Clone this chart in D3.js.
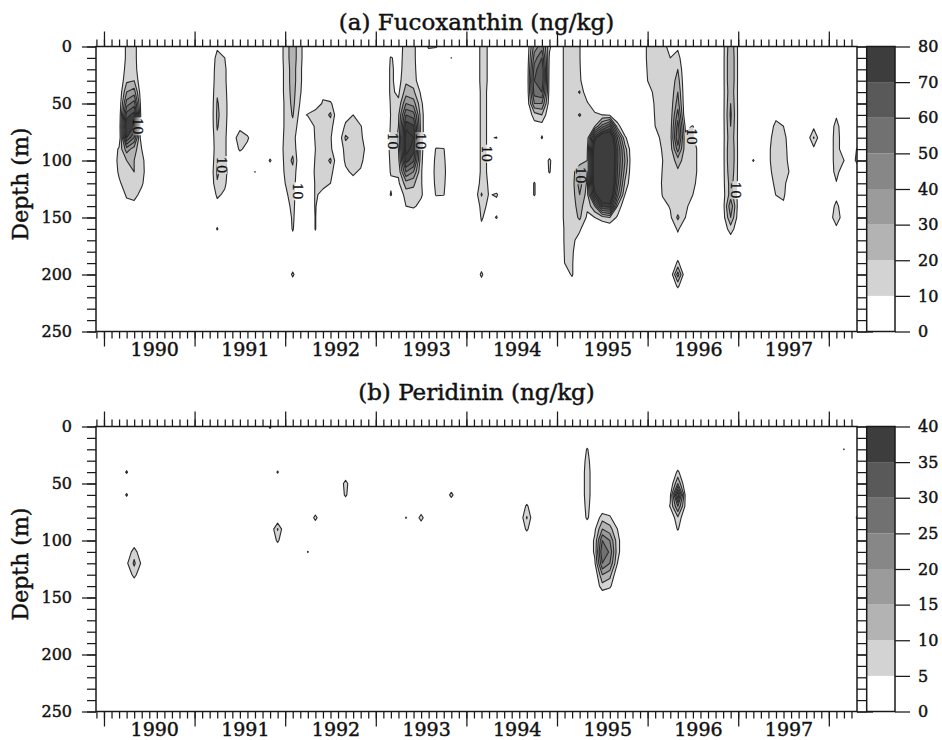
<!DOCTYPE html>
<html>
<head>
<meta charset="utf-8">
<script src="https://cdn.jsdelivr.net/npm/d3@7"></script>
<style>
  body { margin: 0; background: #fff; }
  svg text { font-family: "DejaVu Serif", serif; fill: #111; stroke: #111; stroke-width: 0.45px; }
</style>
</head>
<body>
<svg id="chart" width="942" height="740"></svg>
<script>
// ---- Data -----------------------------------------------------------------
// Profiles: [cruise month, top depth (m), concentrations every 10 m downward].
// Months are on a monthly grid starting Dec 1989; depths run 0-250 m.

const fucoLevels = [0, 10, 20, 30, 40, 50, 60, 70, 80];
const periLevels = [0, 5, 10, 15, 20, 25, 30, 35, 40];
const grayShades = ["#ffffff", "#d3d3d3", "#b3b3b3", "#9b9b9b", "#878787", "#717171", "#595959", "#3d3d3d"];
const yearLabels = [1990, 1991, 1992, 1993, 1994, 1995, 1996, 1997];
const depthLabels = [0, 50, 100, 150, 200, 250];

const fucoProfiles = [
  ["1990-03", 90, [12, 14, 12, 8]],
  ["1990-04", 0, [12, 12, 14, 18, 30, 45, 65, 80, 70, 35, 20, 18, 16, 12, 5]],
  ["1990-05", 0, [14, 14, 15, 20, 35, 55, 75, 70, 50, 25, 20, 20, 18, 14, 6]],
  ["1990-06", 90, [10, 14, 15, 12, 6]],
  ["1991-04", 0, [8, 14, 16, 17, 19, 21, 22, 21, 18, 17, 19, 22, 19, 12, 6, 2, 11]],
  ["1991-05", 0, [5, 10, 12, 12, 13, 14, 14, 13, 12, 12, 12, 14, 12, 8, 4]],
  ["1991-07", 70, [4, 20, 12]],
  ["1991-08", 70, [0, 12, 6]],
  ["1991-09", 110, [10.3]],
  ["1991-11", 100, [11.5]],
  ["1992-01", 0, [14, 14, 13, 13, 13, 12, 12, 12, 13, 14, 13, 12, 10, 8, 5]],
  ["1992-02", 0, [26, 26, 25, 25, 24, 23, 21, 17, 15, 17, 22, 17, 15, 14, 13, 12, 11, 6, 0, 3, 12, 3]],
  ["1992-03", 0, [13, 13, 12, 12, 11, 9, 6, 4]],
  ["1992-04", 60, [11]],
  ["1992-05", 50, [0, 18, 12, 11, 10, 11, 12, 11, 11, 11, 10.5, 10.5, 6]],
  ["1992-06", 40, [6, 12, 14, 15, 13, 12, 14, 16, 12, 8]],
  ["1992-07", 50, [12, 22, 14, 11, 12, 22, 14, 10]],
  ["1992-09", 60, [6, 12, 22, 14, 12, 8]],
  ["1992-10", 60, [10, 14, 16, 15, 13, 12, 6]],
  ["1992-11", 70, [11, 13, 20, 14, 8]],
  ["1993-03", 10, [11, 12, 12, 12, 11, 10.5, 11, 12, 13, 12, 11, 8, 11]],
  ["1993-04", 0, [5, 6, 6, 6, 8, 12, 18, 20, 22, 20, 16, 12, 8]],
  ["1993-05", 0, [14, 14, 15, 18, 25, 40, 60, 78, 85, 85, 75, 50, 25, 15, 10]],
  ["1993-06", 0, [13, 13, 14, 16, 22, 35, 55, 72, 80, 75, 62, 40, 22, 16, 12]],
  ["1993-07", 40, [8, 12, 14, 14, 14, 13, 12, 11, 11, 12, 6]],
  ["1993-08", 0, [12]],
  ["1993-09", 0, [11]],
  ["1993-09", 90, [11, 13, 14, 13, 11]],
  ["1993-10", 90, [10.5, 12, 13, 12, 10.5]],
  ["1993-11", 10, [10.2]],
  ["1994-03", 0, [13, 13, 13, 13, 12, 12, 12, 12, 12, 12, 12, 12, 14, 21, 13, 11, 8, 0, 0, 4, 12, 4]],
  ["1994-04", 0, [9, 9, 9, 9, 9, 9, 9, 9, 9, 9, 9, 9, 9, 9, 8, 6]],
  ["1994-05", 80, [10.5, 0, 0, 0, 0, 11.5, 5, 10.8]],
  ["1994-10", 0, [35, 45, 55, 60, 55, 40, 15, 5, 0, 0, 0, 0, 11, 11]],
  ["1994-11", 0, [45, 60, 70, 70, 60, 40, 20, 5, 11]],
  ["1994-12", 0, [12, 8, 6, 5, 5, 4, 0, 0, 0, 0, 12, 11]],
  ["1995-02", 0, [12, 12, 12, 12, 12, 12, 12, 12, 12, 12, 12, 12, 12, 12, 12, 12, 11, 11, 10.5, 10, 6]],
  ["1995-03", 0, [14, 14, 14, 14, 15, 15, 15, 16, 15, 15, 15, 15, 15, 15, 15, 14, 14, 13, 12, 11, 11, 5]],
  ["1995-04", 0, [10.5, 10.5, 11, 12, 21, 12, 21, 14, 20, 13, 14, 30, 35, 30, 25, 22, 12, 5]],
  ["1995-05", 50, [12, 14, 14, 13, 18, 20, 20, 18, 16, 12, 8]],
  ["1995-06", 60, [13, 20, 75, 92, 95, 95, 92, 75, 30, 10]],
  ["1995-07", 60, [10, 45, 100, 110, 110, 110, 110, 100, 72, 15]],
  ["1995-08", 60, [8, 62, 100, 110, 110, 110, 110, 100, 75, 20]],
  ["1995-09", 70, [15, 50, 62, 62, 60, 55, 45, 20, 8]],
  ["1995-10", 80, [12, 25, 30, 25, 18, 10]],
  ["1996-01", 0, [12, 12, 11, 10, 5]],
  ["1996-02", 0, [13, 13, 13, 13, 13, 12, 11, 10, 6]],
  ["1996-03", 0, [12, 12, 12, 12, 12, 12, 12, 13, 13, 12, 10, 11, 12, 11, 6]],
  ["1996-04", 0, [8, 10, 12, 12, 12, 13, 13, 14, 15, 14, 13, 12, 12, 11, 11, 8]],
  ["1996-05", 0, [8, 14, 20, 25, 30, 35, 45, 55, 60, 45, 25, 18, 16, 14, 14, 22, 12, 5, 3, 12, 35, 12]],
  ["1996-06", 70, [8, 12, 14, 15, 15, 14, 13, 12, 10]],
  ["1996-07", 70, [10.5, 12, 12, 12, 12, 11, 10, 6]],
  ["1996-08", 90, [8, 8, 8, 8, 6]],
  ["1996-11", 0, [7, 7, 7, 7, 7, 7, 7, 7, 7, 7, 7, 7, 7, 6, 6, 5, 3]],
  ["1996-12", 0, [28, 30, 30, 30, 28, 30, 32, 30, 28, 30, 30, 28, 25, 25, 38, 30, 15, 5]],
  ["1997-01", 0, [8, 8, 8, 8, 8, 8, 8, 8, 8, 8, 8, 8, 8, 7, 6, 5, 3]],
  ["1997-03", 100, [11]],
  ["1997-05", 70, [6, 8, 9, 9, 8, 6]],
  ["1997-06", 60, [8, 12, 13, 13, 13, 13, 12, 10.5]],
  ["1997-07", 70, [10, 12, 13, 14, 20, 14, 12, 8]],
  ["1997-08", 80, [6, 6, 6, 6]],
  ["1997-11", 70, [7, 21, 7]],
  ["1998-02", 60, [8, 15, 17, 17, 17, 15, 9, 5, 14, 20, 6]],
  ["1998-03", 100, [10.3]],
  ["1998-05", 90, [15, 20]]
];

// Contour label positions (decimal year, depth m) on the 10 ng/kg line
const fucoLabelSpots = [
  [1990.375, 70], [1991.30, 104], [1992.14, 127], [1993.187, 83], [1993.488, 83],
  [1994.224, 94], [1995.254, 113], [1996.487, 79], [1996.965, 126]
];

const periProfiles = [
  ["1990-04", 40, [5.7, 0, 5.7]],
  ["1990-04", 110, [0, 4]],
  ["1990-05", 110, [8, 11, 7]],
  ["1990-06", 120, [4]],
  ["1991-11", 0, [6]],
  ["1991-12", 40, [5.5]],
  ["1991-12", 90, [10.5, 6]],
  ["1992-04", 110, [5.3]],
  ["1992-05", 80, [6.5]],
  ["1992-09", 50, [7, 6]],
  ["1993-05", 80, [5.3]],
  ["1993-07", 80, [7]],
  ["1993-11", 60, [6.5]],
  ["1994-09", 70, [6, 10.5, 6]],
  ["1995-05", 20, [5.5, 7, 8, 8, 8, 7, 6]],
  ["1995-06", 90, [4, 6, 6, 4]],
  ["1995-07", 80, [8, 15, 25, 30, 25, 15, 8]],
  ["1995-08", 80, [6, 12, 20, 24, 20, 12, 6]],
  ["1995-09", 90, [5, 7, 7, 5]],
  ["1996-04", 60, [4, 5.5]],
  ["1996-05", 40, [6, 15, 35, 20, 9, 5.5]],
  ["1996-06", 60, [4, 4]],
  ["1998-03", 20, [5.2]],
  ["1998-05", 80, [8]]
];

// ---- Layout ---------------------------------------------------------------
const W = 942, H = 740;
const plotL = 96, plotR = 857, plotH = 285;
const barL = 866.7, barR = 895;
const T0 = 1989 + 11 / 12;          // grid column 0 = Dec 1989
const NCOL = 102, NROW = 26, DZ = 10;

const svg = d3.select("#chart");
const defs = svg.append("defs");

const x = d3.scaleLinear().domain([1989.912, 1998.311]).range([plotL, plotR]);
const monthTicks = d3.range(0, NCOL).map(i => T0 + i / 12).filter(t => t >= 1989.912 && t <= 1998.311);
const yearTicks = d3.range(1990, 1999);

function monthCol(s) {
  const [yy, mm] = s.split("-").map(Number);
  return (yy - 1989) * 12 + (mm - 12);
}

function buildGrid(profiles) {
  const g = new Float64Array(NCOL * NROW);
  profiles.forEach(([m, z0, vals]) => {
    const c = monthCol(m), r0 = Math.round(z0 / DZ);
    vals.forEach((v, k) => {
      const r = r0 + k;
      if (r < NROW && c >= 0 && c < NCOL) g[r * NCOL + c] = Math.max(g[r * NCOL + c], v);
    });
  });
  return g;
}

const panels = [
  { title: "(a) Fucoxanthin (ng/kg)", titleY: 30, top: 46.5, profiles: fucoProfiles, levels: fucoLevels, labels: fucoLabelSpots },
  { title: "(b) Peridinin (ng/kg)", titleY: 400, top: 426.5, profiles: periProfiles, levels: periLevels, labels: [] }
];

const ink = "#1a1a1a";

panels.forEach((p, k) => {
  const top = p.top, bot = top + plotH;
  const y = d3.scaleLinear().domain([0, 250]).range([top, bot]);
  const g = svg.append("g");

  // clip to the plot frame
  defs.append("clipPath").attr("id", "clip" + k)
    .append("rect").attr("x", plotL).attr("y", top).attr("width", plotR - plotL).attr("height", plotH);

  // mask that opens gaps in the lines under the contour labels
  const mask = defs.append("mask").attr("id", "mask" + k);
  mask.append("rect").attr("x", 0).attr("y", 0).attr("width", W).attr("height", H).attr("fill", "white");
  p.labels.forEach(([t, d]) => {
    mask.append("rect").attr("x", x(t) - 5).attr("y", y(d) - 9).attr("width", 10).attr("height", 18).attr("fill", "black");
  });

  // contours
  const grid = buildGrid(p.profiles);
  const thresholds = p.levels.slice(1);
  const contours = d3.contours().size([NCOL, NROW]).thresholds(thresholds)(grid);
  const proj = d3.geoTransform({
    point(gx, gy) { this.stream.point(x(T0 + (gx - 0.5) / 12), y((gy - 0.5) * DZ)); }
  });
  const path = d3.geoPath(proj);

  const fills = g.append("g").attr("clip-path", `url(#clip${k})`);
  contours.forEach(c => {
    const idx = p.levels.indexOf(c.value);
    if (idx >= 1 && idx < grayShades.length) {
      fills.append("path").attr("d", path(c)).attr("fill", grayShades[idx]).attr("stroke", "none");
    }
  });
  const lines = g.append("g").attr("clip-path", `url(#clip${k})`)
    .append("g").attr("mask", `url(#mask${k})`);
  contours.forEach(c => {
    lines.append("path").attr("d", path(c)).attr("fill", "none")
      .attr("stroke", "#2b2b2b").attr("stroke-width", 1.1).attr("stroke-linejoin", "round");
  });

  // contour labels
  p.labels.forEach(([t, d]) => {
    g.append("text").attr("transform", `translate(${x(t)},${y(d)}) rotate(90)`)
      .attr("text-anchor", "middle").attr("dominant-baseline", "central")
      .attr("font-size", 13).style("stroke-width", "0.3px").text(p.levels[1]);
  });

  // frame
  g.append("rect").attr("x", plotL).attr("y", top).attr("width", plotR - plotL).attr("height", plotH)
    .attr("fill", "none").attr("stroke", ink).attr("stroke-width", 1.5);

  const styleAxis = sel => {
    sel.select(".domain").remove();
    sel.selectAll(".tick line").attr("stroke", ink).attr("stroke-width", 1.25);
    sel.selectAll("text").attr("fill", ink);
  };

  // time axes (top and bottom)
  g.append("g").attr("transform", `translate(0,${top})`)
    .call(d3.axisTop(x).tickValues(monthTicks).tickSize(7).tickSizeOuter(0).tickFormat("")).call(styleAxis);
  g.append("g").attr("transform", `translate(0,${top})`)
    .call(d3.axisTop(x).tickValues(yearTicks).tickSize(15).tickSizeOuter(0).tickFormat("")).call(styleAxis);
  g.append("g").attr("transform", `translate(0,${bot})`)
    .call(d3.axisBottom(x).tickValues(monthTicks).tickSize(7).tickSizeOuter(0).tickFormat("")).call(styleAxis);
  g.append("g").attr("transform", `translate(0,${bot})`)
    .call(d3.axisBottom(x).tickValues(yearTicks).tickSize(15).tickSizeOuter(0).tickFormat("")).call(styleAxis);
  const yl = g.append("g").attr("transform", `translate(0,${bot})`)
    .call(d3.axisBottom(x).tickValues(yearLabels.map(v => v + 0.555)).tickSize(0).tickPadding(11)
      .tickFormat(v => Math.floor(v))).call(styleAxis);
  yl.selectAll("text").attr("font-size", 19);

  // depth axes (left and right)
  g.append("g").attr("transform", `translate(${plotL},0)`)
    .call(d3.axisLeft(y).tickValues(d3.range(0, 251, 10)).tickSize(9).tickSizeOuter(0).tickFormat("")).call(styleAxis);
  const dl = g.append("g").attr("transform", `translate(${plotL},0)`)
    .call(d3.axisLeft(y).tickValues(depthLabels).tickSize(14).tickSizeOuter(0).tickPadding(10)).call(styleAxis);
  dl.selectAll("text").attr("font-size", 16);
  g.append("g").attr("transform", `translate(${plotR},0)`)
    .call(d3.axisRight(y).tickValues(d3.range(0, 251, 10)).tickSize(9.7).tickSizeOuter(0).tickFormat("")).call(styleAxis);
  g.append("g").attr("transform", `translate(${plotR},0)`)
    .call(d3.axisRight(y).tickValues(depthLabels).tickSize(16).tickSizeOuter(0).tickFormat("")).call(styleAxis);

  // titles
  g.append("text").attr("x", (plotL + plotR) / 2).attr("y", p.titleY)
    .attr("text-anchor", "middle").attr("font-size", 23).text(p.title);
  g.append("text").attr("transform", `translate(28,${(top + bot) / 2 - 5}) rotate(-90)`)
    .attr("text-anchor", "middle").attr("font-size", 22).text("Depth (m)");

  // colour bar
  const maxV = p.levels[p.levels.length - 1];
  const c = d3.scaleLinear().domain([0, maxV]).range([bot, top]);
  const bins = d3.pairs(p.levels);
  g.append("g").selectAll("rect").data(bins).join("rect")
    .attr("x", barL).attr("width", barR - barL)
    .attr("y", d => c(d[1])).attr("height", d => c(d[0]) - c(d[1]))
    .attr("fill", (d, i) => grayShades[i]);
  g.append("rect").attr("x", barL).attr("y", top).attr("width", barR - barL).attr("height", plotH)
    .attr("fill", "none").attr("stroke", ink).attr("stroke-width", 1.5);
  const cb = g.append("g").attr("transform", `translate(${barR},0)`)
    .call(d3.axisRight(c).tickValues(p.levels).tickSize(15).tickSizeOuter(0).tickPadding(8)).call(styleAxis);
  cb.selectAll("text").attr("font-size", 16);
});
</script>
</body>
</html>
